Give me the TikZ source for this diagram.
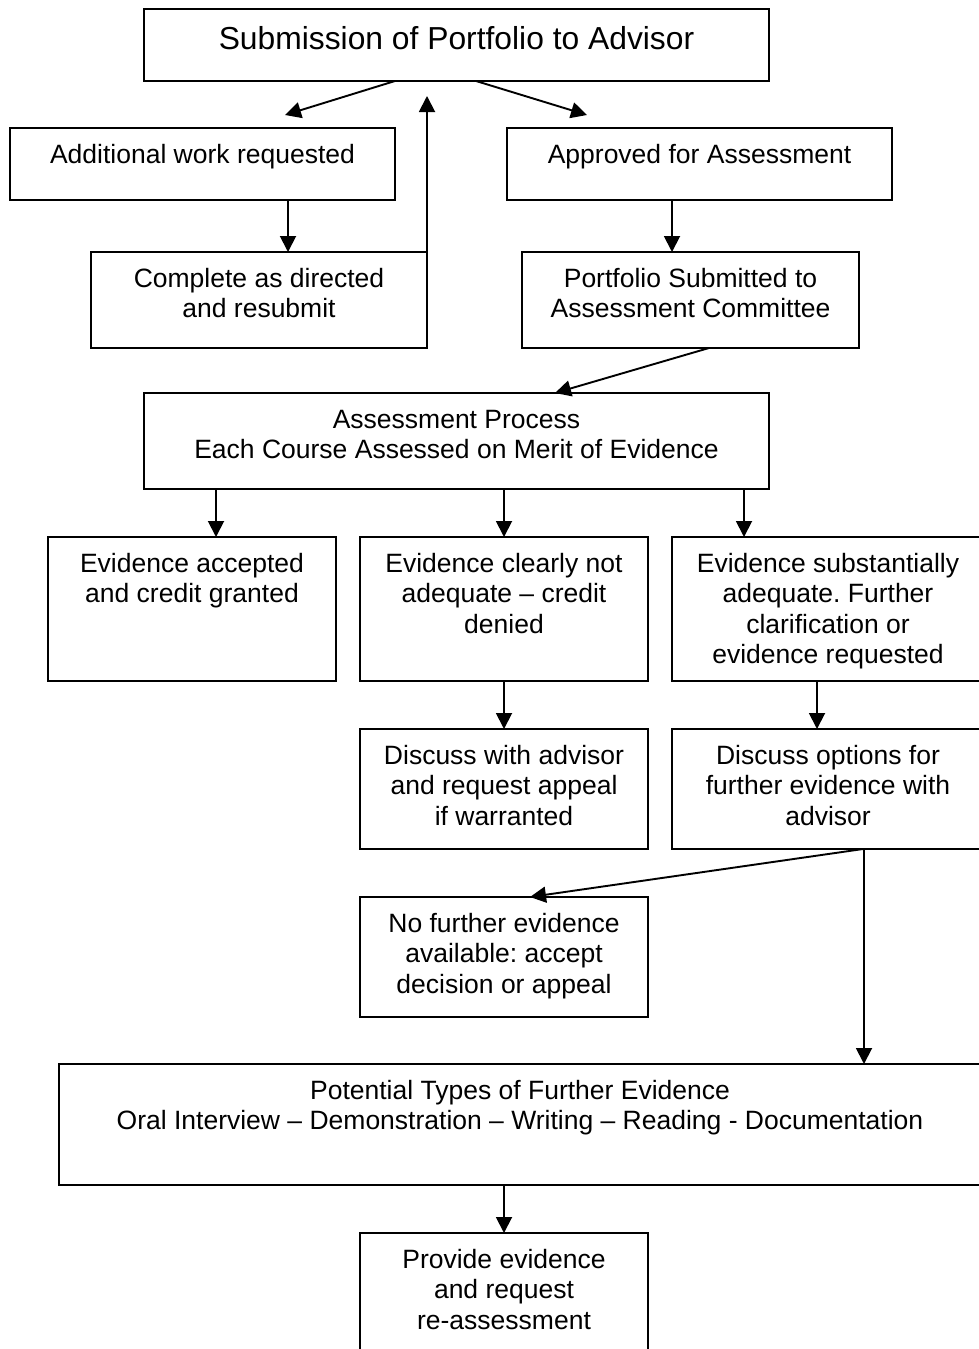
\documentclass[tikz,border=0pt]{standalone}
\usepackage{fontspec}
\setmainfont{Liberation Sans}
\usetikzlibrary{arrows.meta}

\tikzset{
  box/.style={draw, line width=2pt, inner sep=0pt, outer sep=0pt, align=flush center, anchor=north west,
    text height=35pt, font=\fontsize{26.5}{30.5}\selectfont\frenchspacing},
  arr/.style={line width=1.9pt, -{Triangle[length=16pt,width=16pt]}}
}

\begin{document}
\begin{tikzpicture}[x=1pt, y=-1pt]
    \path[fill=white, use as bounding box] (0,0) rectangle (979,1349);
    \clip (0,0) rectangle (979,1349);
    \node[box, text width=625pt, text height=40pt, text depth=32pt, font=\fontsize{31.8}{36}\selectfont] (a) at (144, 9) {Submission of Portfolio to Advisor};
    \node[box, text width=385pt, text depth=37pt] (b) at (10, 128) {Additional work requested};
    \node[box, text width=385pt, text depth=37pt] (c) at (507, 128) {Approved for Assessment};
    \node[box, text width=336pt, text depth=61pt] (d) at (91, 252) {Complete as directed\\and resubmit};
    \node[box, text width=337pt, text depth=61pt] (e) at (522, 252) {Portfolio Submitted to\\Assessment Committee};
    \node[box, text width=625pt, text depth=61pt] (f) at (144, 393) {Assessment Process\\Each Course Assessed on Merit of Evidence};
    \node[box, text width=288pt, text depth=109pt] (g) at (48, 537) {Evidence accepted\\and credit granted};
    \node[box, text width=288pt, text depth=109pt] (h) at (360, 537) {Evidence clearly not\\adequate -- credit\\denied};
    \node[box, text width=312pt, text depth=109pt] (i) at (672, 537) {Evidence substantially\\adequate. Further\\clarification or\\evidence requested};
    \node[box, text width=288pt, text depth=85pt] (j) at (360, 729) {Discuss with advisor\\and request appeal\\if warranted};
    \node[box, text width=312pt, text depth=85pt] (k) at (672, 729) {Discuss options for\\further evidence with\\advisor};
    \node[box, text width=288pt, text depth=85pt] (l) at (360, 897) {No further evidence\\available: accept\\decision or appeal};
    \node[box, text width=922pt, text depth=86pt] (m) at (59, 1064) {Potential Types of Further Evidence\\Oral Interview -- Demonstration -- Writing -- Reading - Documentation};
    \node[box, text width=288pt, text depth=115pt] (n) at (360, 1233) {Provide evidence\\and request\\re-assessment};
    \coordinate (q1) at (285, 115);
    \coordinate (q2) at (587, 115);
    \coordinate (q3) at (427, 96);
    \draw [arr] ([xshift=251pt]a.south west) -- (q1);
    \draw [arr] ([xshift=332pt]a.south west) -- (q2);
    \draw [arr] (d.north east) -- (q3);
    \draw [arr] ([xshift=278pt]b.south west) -- ([xshift=197pt]d.north west);
    \draw [arr] ([xshift=165pt]c.south west) -- ([xshift=150pt]e.north west);
    \draw [arr] ([xshift=187pt]e.south west) -- ([xshift=411pt]f.north west);
    \draw [arr] ([xshift=72pt]f.south west) -- ([xshift=168pt]g.north west);
    \draw [arr] ([xshift=360pt]f.south west) -- (h.north);
    \draw [arr] ([xshift=600pt]f.south west) -- ([xshift=72pt]i.north west);
    \draw [arr] (h.south) -- (j.north);
    \draw [arr] ([xshift=145pt]i.south west) -- ([xshift=145pt]k.north west);
    \draw [arr] ([xshift=191pt]k.south west) -- ([xshift=170pt]l.north west);
    \draw [arr] ([xshift=192pt]k.south west) -- ([xshift=805pt]m.north west);
    \draw [arr] ([xshift=445pt]m.south west) -- (n.north);
\end{tikzpicture}
\end{document}
